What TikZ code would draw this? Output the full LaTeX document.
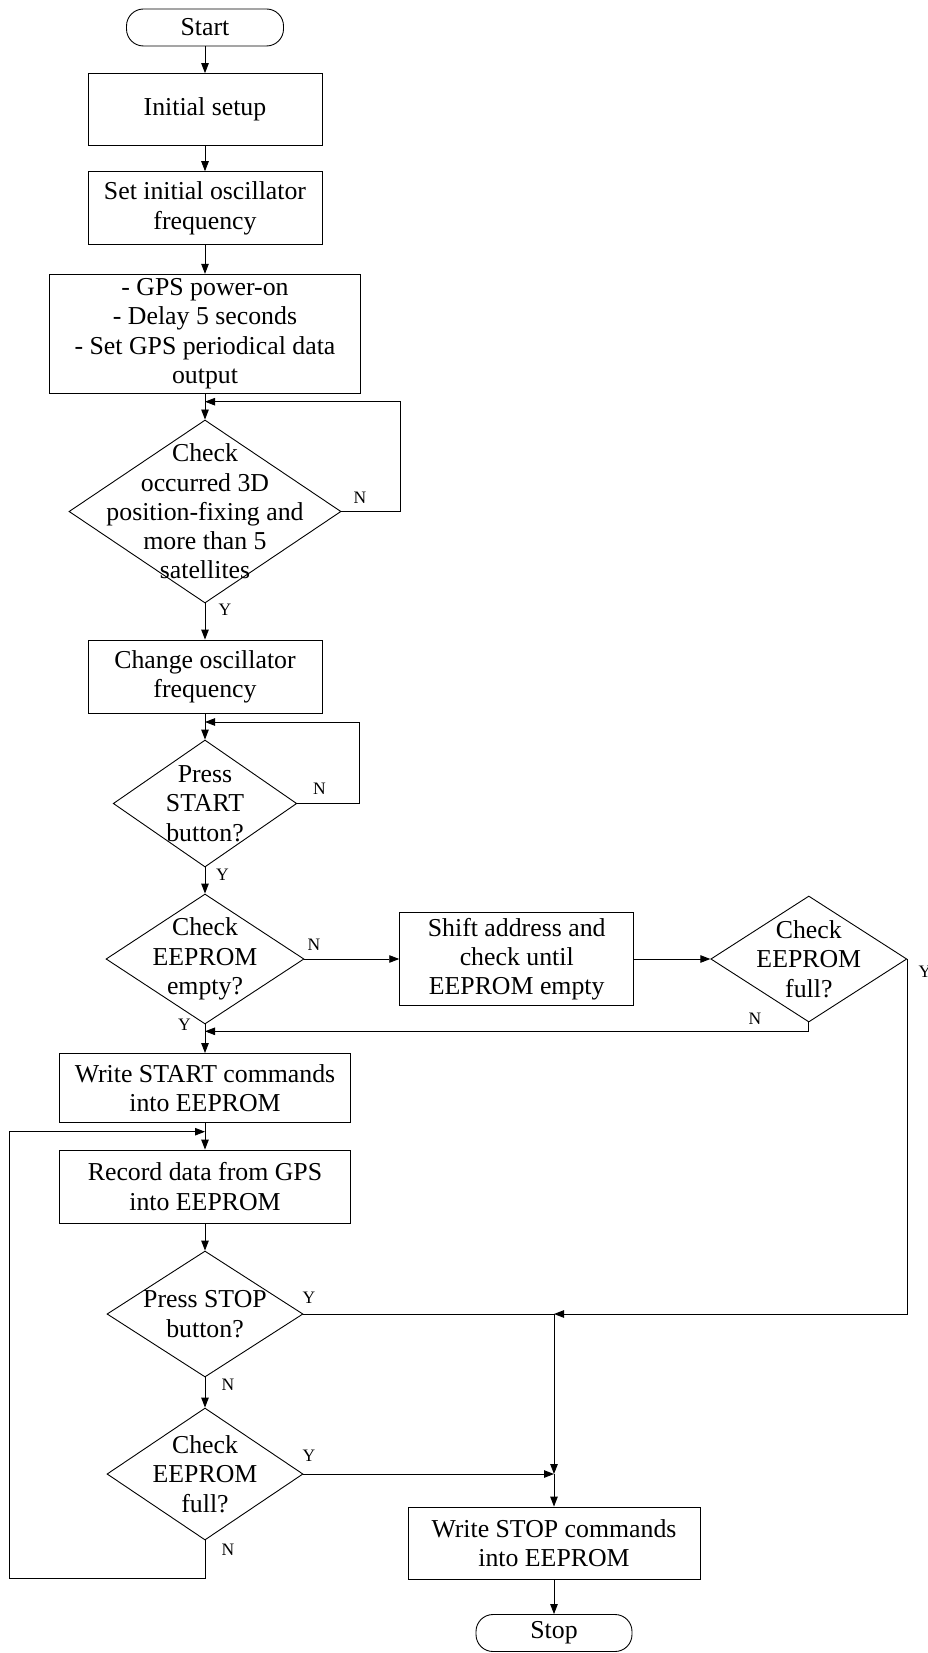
\documentclass[tikz,border=0pt]{standalone}
\usepackage{fontspec}
\setmainfont{Liberation Serif}
\usetikzlibrary{shapes.geometric,arrows.meta}
\begin{document}
\begin{tikzpicture}[x=1pt,y=-1pt,
  every node/.style={font=\fontsize{25.8}{29.3}\selectfont},
  line/.style={line width=0.9pt},
  arr/.style={line, -{Triangle[length=10pt,width=7.5pt]}},
  procbox/.style={draw, line width=0.9pt, rectangle, align=center, inner sep=0pt},
  term/.style={draw, line width=0.9pt, rounded corners=17pt, inner sep=0pt},
  decision/.style={draw, line width=0.9pt, diamond, inner sep=0pt},
  dtext/.style={align=center, inner sep=0pt},
  yn/.style={font=\fontsize{17.5}{20}\selectfont, inner sep=0pt},
]
\useasboundingbox (0,0) rectangle (928,1653);

% main column
\node[term, minimum width=157pt, minimum height=37pt] (start) at (205,27.5) {Start};
\node[procbox, minimum width=234pt, minimum height=72pt] (setup) at (205,109.6) {Initial setup};
\node[procbox, minimum width=234pt, minimum height=73pt] (osc) at (205,208.2) {Set initial oscillator\\frequency};
\node[procbox, minimum width=311.5pt, minimum height=119pt] (gps) at (205,333.8) {- GPS power-on\\- Delay 5 seconds\\- Set GPS periodical data\\output};
\node[decision, minimum width=272pt, minimum height=183pt] (d1) at (205,511.5) {};
\node[dtext] (d1t) at (d1) {Check\\occurred 3D\\position-fixing and\\more than 5\\satellites};
\node[procbox, minimum width=234pt, minimum height=73pt] (chg) at (205,676.5) {Change oscillator\\frequency};
\node[decision, minimum width=183.5pt, minimum height=127pt] (d2) at (205,803.5) {};
\node[dtext] (d2t) at (d2) {Press\\START\\button?};
\node[decision, minimum width=198pt, minimum height=130pt] (d3) at (205,959) {};
\node[dtext] (d3t) at (d3) {Check\\EEPROM\\empty?};
\node[procbox, minimum width=234pt, minimum height=93pt] (shift) at (516.7,959) {Shift address and\\check until\\EEPROM empty};
\node[decision, minimum width=196pt, minimum height=126pt] (d4) at (808.8,959) {};
\node[dtext] (d4t) at (d4) {Check\\EEPROM\\full?};
\node[procbox, minimum width=291pt, minimum height=69pt] (wstart) at (205,1088) {Write START commands\\into EEPROM};
\node[procbox, minimum width=291pt, minimum height=73pt] (rec) at (205,1186.5) {Record data from GPS\\into EEPROM};
\node[decision, minimum width=196pt, minimum height=126pt] (d5) at (205,1314) {};
\node[dtext] (d5t) at (d5) {Press STOP\\button?};
\node[decision, minimum width=196pt, minimum height=132pt] (d6) at (205,1474) {};
\node[dtext] (d6t) at (d6) {Check\\EEPROM\\full?};
\node[procbox, minimum width=292pt, minimum height=72pt] (wstop) at (554,1543) {Write STOP commands\\into EEPROM};
\node[term, minimum width=156pt, minimum height=37pt] (stop) at (554,1633) {Stop};

% routing points
\coordinate (r1) at (400,401.7);
\coordinate (r2) at (359.6,722);
\coordinate (jn) at (205,1031.3);
\coordinate (jy) at (554,1314);
\coordinate (jf) at (554,1474);
\coordinate (lbb) at (9.5,1578.6);
\coordinate (lbt) at (9.5,1131.7);

% straight flow
\draw[arr] (start) -- (setup);
\draw[arr] (setup) -- (osc);
\draw[arr] (osc) -- (gps);
\draw[arr] (gps) -- (d1);
\draw[arr] (d1) -- (chg);
\draw[arr] (chg) -- (d2);
\draw[arr] (d2) -- (d3);
\draw[arr] (d3.east) -- (shift.west);
\draw[arr] (shift.east) -- (d4.west);
\draw[arr] (d3) -- (wstart);
\draw[arr] (wstart) -- (rec);
\draw[arr] (rec) -- (d5);
\draw[arr] (d5) -- (d6);
\draw[arr] (wstop) -- (stop);

% loops and branches
\draw[arr] (d1.east) -| (r1) -- (r1 -| d1.north);
\draw[arr] (d2.east) -| (r2) -- (r2 -| d2.north);
\draw[arr] (d4.south) |- (jn);
\draw[arr] (d4.east) |- (jy);
\draw[line] (d5.east) -- (jy);
\draw[arr] (jy) -- (jf);
\draw[arr] (d6.east) -- (jf);
\draw[arr] (jf) -- (wstop.north);
\draw[arr] (d6.south) |- (lbb) -- (lbt) -- (lbt -| rec.north);

% branch labels
\node[yn] (l1n) at (360,498) {N};
\node[yn] (l1y) at (225,610) {Y};
\node[yn] (l2n) at (319.5,789) {N};
\node[yn] (l2y) at (222.5,875) {Y};
\node[yn] (l3n) at (314,945) {N};
\node[yn] (l3y) at (184.5,1025) {Y};
\node[yn] (l4n) at (755,1019) {N};
\node[yn] (l4y) at (925,972) {Y};
\node[yn] (l5y) at (309,1298) {Y};
\node[yn] (l5n) at (228,1385) {N};
\node[yn] (l6y) at (309,1456) {Y};
\node[yn] (l6n) at (228,1550) {N};
\end{tikzpicture}
\end{document}
